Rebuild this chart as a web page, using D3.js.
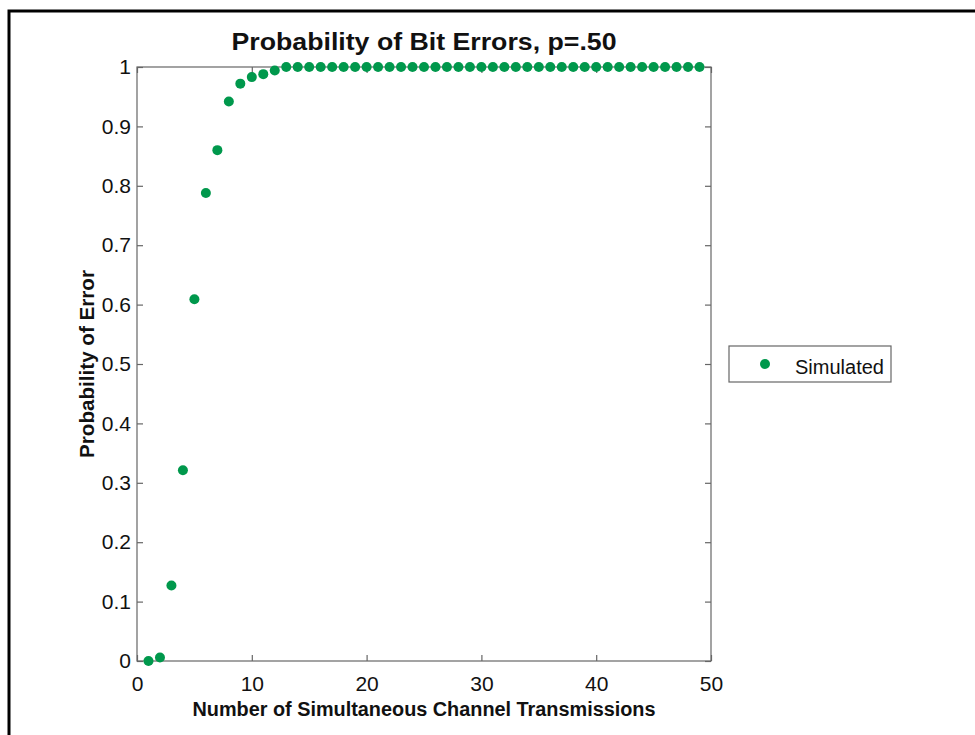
<!DOCTYPE html>
<html lang="en">
<head>
    <meta charset="UTF-8">
    <title>Probability of Bit Errors</title>
    <script src="https://d3js.org/d3.v7.min.js"></script>
    <style>
        body { margin: 0; background: #fff; }
        .lbl {
            font-family: "Liberation Sans", Arial, sans-serif;
            fill: #111;
        }
    </style>
</head>
<body>
<svg width="975" height="735"></svg>

<script type="application/javascript">

    // number of simultaneous transmissions
    const transmissions = [1, 2, 3, 4, 5, 6, 7, 8, 9, 10,
        11, 12, 13, 14, 15, 16, 17, 18, 19, 20,
        21, 22, 23, 24, 25, 26, 27, 28, 29, 30,
        31, 32, 33, 34, 35, 36, 37, 38, 39, 40,
        41, 42, 43, 44, 45, 46, 47, 48, 49]

    // simulated probability of error
    const probError = [0, 0.006, 0.127, 0.321, 0.609, 0.788, 0.860, 0.942, 0.972, 0.983,
        0.988, 0.994, 1, 1, 1, 1, 1, 1, 1, 1,
        1, 1, 1, 1, 1, 1, 1, 1, 1, 1,
        1, 1, 1, 1, 1, 1, 1, 1, 1, 1,
        1, 1, 1, 1, 1, 1, 1, 1, 1]

    const xTicks = [0, 10, 20, 30, 40, 50]
    const yTicks = [0, 0.1, 0.2, 0.3, 0.4, 0.5, 0.6, 0.7, 0.8, 0.9, 1]

    const titulo = "Probability of Bit Errors, p=.50"
    const xLabel = "Number of Simultaneous Channel Transmissions"
    const yLabel = "Probability of Error"
    const serieName = "Simulated"

    const verde = "#00984c"
    const gris = "#666"

    const svg = d3.select("svg")

    // marco exterior
    svg.append("rect")
        .attr("x", 9).attr("y", 11)
        .attr("width", 1200).attr("height", 1000)
        .attr("fill", "none")
        .attr("stroke", "black")
        .attr("stroke-width", 3)

    const mLeft = 137, mRight = 711, mTop = 67, mBottom = 661

    const x = d3.scaleLinear().domain([0, 50]).range([mLeft, mRight])
    const y = d3.scaleLinear().domain([0, 1]).range([mBottom, mTop])

    // caja de ejes
    svg.append("rect")
        .attr("x", mLeft).attr("y", mTop)
        .attr("width", mRight - mLeft).attr("height", mBottom - mTop)
        .attr("fill", "white")
        .attr("stroke", gris)
        .attr("stroke-width", 1.2)

    function estiloEje(g) {
        g.select(".domain").remove()
        g.selectAll(".tick line").attr("stroke", gris).attr("stroke-width", 1.2)
    }

    // ejes con ticks hacia dentro
    svg.append("g")
        .attr("transform", `translate(0,${mBottom})`)
        .call(d3.axisBottom(x).tickValues(xTicks).tickSize(-6).tickPadding(15).tickFormat(d3.format("d")))
        .call(estiloEje)
        .selectAll("text")
        .attr("class", "lbl")
        .attr("font-size", 21)

    svg.append("g")
        .attr("transform", `translate(0,${mTop})`)
        .call(d3.axisTop(x).tickValues(xTicks).tickSize(-6).tickFormat(""))
        .call(estiloEje)

    svg.append("g")
        .attr("transform", `translate(${mLeft},0)`)
        .call(d3.axisLeft(y).tickValues(yTicks).tickSize(-6).tickPadding(6).tickFormat(function (d) { return d === 0 || d === 1 ? d : d.toFixed(1) }))
        .call(estiloEje)
        .selectAll("text")
        .attr("class", "lbl")
        .attr("font-size", 21)

    svg.append("g")
        .attr("transform", `translate(${mRight},0)`)
        .call(d3.axisRight(y).tickValues(yTicks).tickSize(-6).tickFormat(""))
        .call(estiloEje)

    // puntos
    svg.append("g")
        .selectAll("circle")
        .data(transmissions)
        .enter()
        .append("circle")
        .attr("cx", function (d) { return x(d) })
        .attr("cy", function (d, i) { return y(probError[i]) })
        .attr("r", 5)
        .attr("fill", verde)

    // titulo y etiquetas
    svg.append("text")
        .attr("class", "lbl")
        .attr("x", (mLeft + mRight) / 2).attr("y", 50)
        .attr("text-anchor", "middle")
        .attr("font-size", 24).attr("font-weight", "bold")
        .attr("textLength", 385).attr("lengthAdjust", "spacingAndGlyphs")
        .text(titulo)

    svg.append("text")
        .attr("class", "lbl")
        .attr("x", (mLeft + mRight) / 2).attr("y", 716)
        .attr("text-anchor", "middle")
        .attr("font-size", 20).attr("font-weight", "bold")
        .attr("textLength", 463).attr("lengthAdjust", "spacingAndGlyphs")
        .text(xLabel)

    svg.append("text")
        .attr("class", "lbl")
        .attr("transform", `translate(94,${(mTop + mBottom) / 2}) rotate(-90)`)
        .attr("text-anchor", "middle")
        .attr("font-size", 20).attr("font-weight", "bold")
        .attr("textLength", 188).attr("lengthAdjust", "spacingAndGlyphs")
        .text(yLabel)

    // leyenda
    const leyenda = svg.append("g")
    leyenda.append("rect")
        .attr("x", 729).attr("y", 346)
        .attr("width", 162).attr("height", 36)
        .attr("fill", "white")
        .attr("stroke", gris)
        .attr("stroke-width", 1.2)
    leyenda.append("circle")
        .attr("cx", 765).attr("cy", 364)
        .attr("r", 5)
        .attr("fill", verde)
    leyenda.append("text")
        .attr("class", "lbl")
        .attr("x", 795).attr("y", 374)
        .attr("font-size", 20)
        .text(serieName)

</script>
</body>
</html>
